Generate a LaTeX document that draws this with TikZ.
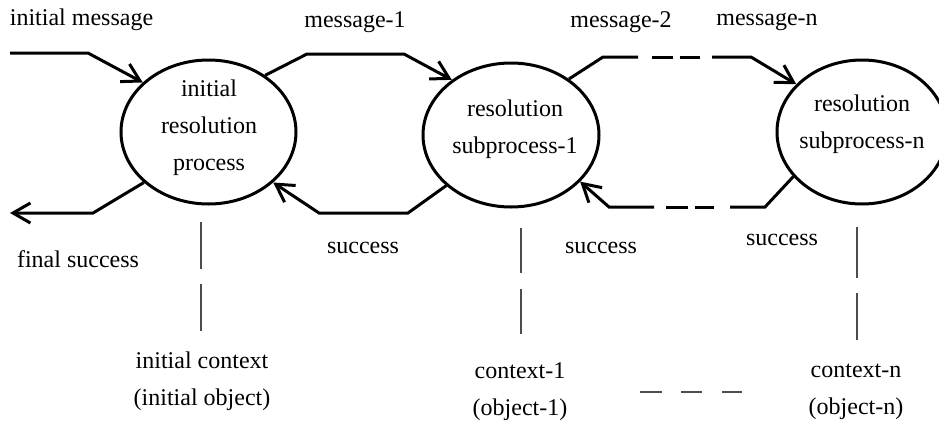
\documentclass[tikz,border=0pt]{standalone}
\usepackage{fontspec}
\setmainfont{Liberation Serif}
\usetikzlibrary{arrows.meta,shapes.geometric}
\begin{document}
\begin{tikzpicture}[x=0.5pt,y=-0.5pt,
  flow/.style={line width=1.5pt, line join=miter},
  barb/.style={-{Straight Barb[length=8.7pt,width=10pt]}},
  proc/.style={ellipse, draw, line width=1.5pt, inner sep=0pt, minimum height=72pt},
  lbl/.style={font=\fontsize{12}{18.5}\selectfont, inner sep=0pt, align=center},
  tie/.style={line width=0.6pt, draw=black!70}]
\useasboundingbox (0,0) rectangle (939,424);
\clip (0,0) rectangle (939,424);

% processes
\node[proc, minimum width=87.5pt] (p1) at (208.5,132) {};
\node[proc, minimum width=88pt]   (p2) at (511,135) {};
\node[proc, minimum width=85pt]   (pn) at (862,132) {};
\node[lbl] (t1) at (209,128) {initial\\resolution\\process};
\node[lbl] (t2) at (515,129) {resolution\\subprocess-1};
\node[lbl] (tn) at (862,124) {resolution\\subprocess-n};

% bend points of the message and success lines
\coordinate (im0) at (10,53);   \coordinate (im1) at (88,53);
\coordinate (fs0) at (93,213);  \coordinate (fs1) at (10,213);
\coordinate (m1a) at (307,54);  \coordinate (m1b) at (404,54);
\coordinate (s1a) at (408,213); \coordinate (s1b) at (319,213);
\coordinate (m2a) at (603,57);  \coordinate (m2b) at (638,57);
\coordinate (m2c) at (712,57);  \coordinate (m2d) at (751,57);
\coordinate (sna) at (765,207); \coordinate (snb) at (730,207);
\coordinate (snc) at (654,207); \coordinate (snd) at (609,207);

% initial message and final success
\draw[flow, barb] (im0) -- (im1) -- (p1.143);
\draw[flow, barb] (p1.218) -- (fs0) -- (fs1);

% message-1 and its success
\draw[flow, barb] (p1.45) -- (m1a) -- (m1b) -- (p2.137);
\draw[flow, barb] (p2.218) -- (s1a) -- (s1b) -- (p1.322);

% message-2 ... message-n, broken line
\draw[flow] (p2.44) -- (m2a) -- (m2b);
\draw[flow] (652,57) -- (673,57);
\draw[flow] (680,57) -- (700,57);
\draw[flow, barb] (m2c) -- (m2d) -- (pn.144);

% success from subprocess-n back, broken line
\draw[flow] (pn.213) -- (sna) -- (snb);
\draw[flow] (714,207) -- (695,207);
\draw[flow] (688,207) -- (666,207);
\draw[flow, barb] (snc) -- (snd) -- (p2.326);

% links from processes down to their contexts
\draw[tie] (201,222) -- (201,269);
\draw[tie] (201,284) -- (201,331);
\draw[tie] (521,228) -- (521,273);
\draw[tie] (521,289) -- (521,334);
\draw[tie] (857,227) -- (857,278);
\draw[tie] (857,293) -- (857,340);
\draw[tie] (640,392) -- (662,392);
\draw[tie] (681,392) -- (702,392);
\draw[tie] (722,392) -- (742,392);

% labels
\node[lbl] (lim) at (81.5,20) {initial message};
\node[lbl] (lm1) at (355,22) {message-1};
\node[lbl] (lm2) at (621,22) {message-2};
\node[lbl] (lmn) at (767,22) {message-n};
\node[lbl] (lfs) at (78,259) {final success};
\node[lbl] (ls1) at (363,248) {success};
\node[lbl] (ls2) at (601,248) {success};
\node[lbl] (lsn) at (782,240) {success};
\node[lbl] (c0) at (202,381.5) {initial context\\(initial object)};
\node[lbl] (c1) at (520,391.5) {context-1\\(object-1)};
\node[lbl] (cn) at (856,391.5) {context-n\\(object-n)};
\end{tikzpicture}
\end{document}
